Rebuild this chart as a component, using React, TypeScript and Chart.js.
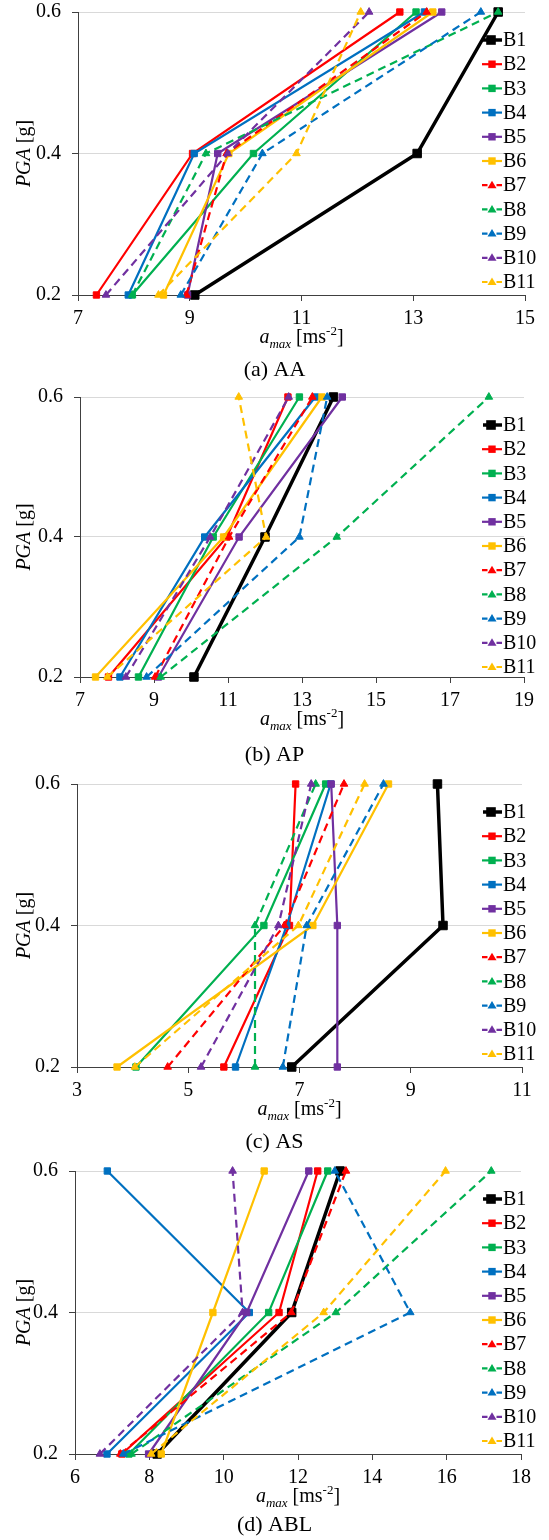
import React, { useEffect, useRef } from 'react';
import { Chart, registerables } from 'chart.js';

Chart.register(...registerables);

// ---------- data ----------
const seriesNames = ['B1', 'B2', 'B3', 'B4', 'B5', 'B6', 'B7', 'B8', 'B9', 'B10', 'B11'];
const pgaLevels = [0.2, 0.4, 0.6];
const yTicks = [0.2, 0.4, 0.6];

// a_max [m/s2] at PGA 0.2, 0.4, 0.6 for B1..B11
const aaValues = [
  [9.09, 13.07, 14.52],
  [7.33, 9.05, 12.76],
  [7.97, 10.14, 13.05],
  [7.9, 9.08, 13.2],
  [8.96, 9.5, 13.51],
  [8.53, 9.7, 13.35],
  [8.94, 9.66, 13.24],
  [7.97, 9.29, 14.52],
  [8.84, 10.3, 14.21],
  [7.5, 9.68, 12.21],
  [8.44, 10.91, 12.06],
];
const apValues = [
  [10.08, 12.0, 13.85],
  [7.77, 10.97, 12.62],
  [8.58, 10.6, 12.93],
  [8.08, 10.37, 13.36],
  [9.12, 11.3, 14.09],
  [7.42, 10.88, 13.54],
  [9.03, 11.03, 13.28],
  [9.18, 13.94, 18.05],
  [8.8, 12.93, 13.68],
  [8.24, 10.52, 12.64],
  [7.74, 12.03, 11.29],
];
const asValues = [
  [6.86, 9.58, 9.48],
  [5.64, 6.82, 6.93],
  [4.06, 6.36, 7.47],
  [5.85, 6.77, 7.56],
  [7.68, 7.68, 7.57],
  [3.72, 7.24, 8.6],
  [4.63, 6.73, 7.8],
  [6.2, 6.2, 7.29],
  [6.7, 7.13, 8.51],
  [5.23, 6.62, 7.21],
  [4.04, 6.98, 8.17],
];
const ablValues = [
  [8.21, 11.83, 13.13],
  [7.26, 11.49, 12.53],
  [7.45, 11.21, 12.8],
  [6.86, 10.69, 6.87],
  [7.98, 10.62, 12.29],
  [8.32, 9.71, 11.09],
  [7.22, 11.82, 13.29],
  [7.52, 13.02, 17.2],
  [7.3, 15.02, 12.99],
  [6.67, 10.51, 10.24],
  [8.05, 12.69, 15.97],
];

const aaXTicks = [7, 9, 11, 13, 15];
const apXTicks = [7, 9, 11, 13, 15, 17, 19];
const asXTicks = [3, 5, 7, 9, 11];
const ablXTicks = [6, 8, 10, 12, 14, 16, 18];

const captions = ['(a) AA', '(b) AP', '(c) AS', '(d) ABL'];

// ---------- styles / layout ----------
const seriesColors = [
  '#000000', '#FF0000', '#00B050', '#0070C0', '#7030A0', '#FFC000',
  '#FF0000', '#00B050', '#0070C0', '#7030A0', '#FFC000',
];
const panelValues = [aaValues, apValues, asValues, ablValues];
const panelXTicks = [aaXTicks, apXTicks, asXTicks, ablXTicks];

const layouts = [
  { left: 78, right: 525, top: 12, bottom: 295, captionY: 370 },
  { left: 80, right: 524, top: 397, bottom: 677, captionY: 755 },
  { left: 77, right: 522, top: 784, bottom: 1067, captionY: 1142 },
  { left: 75, right: 521, top: 1171, bottom: 1454, captionY: 1525 },
];
const PAD_TOP = 26;
const CANVAS_W = 549;
const CANVAS_H = 410;
const X_AXIS_H = 30;
const FONT = '"Liberation Serif", "Times New Roman", serif';
const AXIS_COLOR = '#404040';

const decorPlugin = {
  id: 'decor',
  afterDraw(chart: any, _args: any, opts: any) {
    const { ctx, chartArea: ca } = chart;
    ctx.save();
    // legend
    const y0 = ca.top + 28;
    const step = 24.2;
    seriesNames.forEach((name, i) => {
      const y = y0 + i * step;
      const c = seriesColors[i];
      ctx.strokeStyle = c;
      ctx.fillStyle = c;
      ctx.setLineDash([]);
      if (i === 0) {
        ctx.lineWidth = 3.5;
        ctx.beginPath();
        ctx.moveTo(483, y);
        ctx.lineTo(502, y);
        ctx.stroke();
        ctx.fillRect(491 - 4.8, y - 4.8, 9.6, 9.6);
      } else if (i <= 5) {
        ctx.lineWidth = 2.2;
        ctx.beginPath();
        ctx.moveTo(482, y);
        ctx.lineTo(502, y);
        ctx.stroke();
        ctx.fillRect(492 - 3.7, y - 3.7, 7.4, 7.4);
      } else {
        ctx.lineWidth = 2.2;
        ctx.beginPath();
        ctx.moveTo(482, y);
        ctx.lineTo(487.5, y);
        ctx.moveTo(496.5, y);
        ctx.lineTo(502, y);
        ctx.stroke();
        ctx.beginPath();
        ctx.moveTo(492, y - 4.5);
        ctx.lineTo(496.5, y + 3);
        ctx.lineTo(487.5, y + 3);
        ctx.closePath();
        ctx.fill();
      }
      ctx.fillStyle = '#000';
      ctx.font = `20px ${FONT}`;
      ctx.textBaseline = 'middle';
      ctx.textAlign = 'left';
      ctx.fillText(name, 503, y + 1);
    });

    // y-axis title: PGA [g]
    ctx.save();
    ctx.translate(24.5, (ca.top + ca.bottom) / 2);
    ctx.rotate(-Math.PI / 2);
    ctx.textBaseline = 'middle';
    ctx.textAlign = 'left';
    ctx.fillStyle = '#000';
    ctx.font = `italic 20px ${FONT}`;
    const w1 = ctx.measureText('PGA').width;
    ctx.font = `20px ${FONT}`;
    const w2 = ctx.measureText(' [g]').width;
    const sx = -(w1 + w2) / 2;
    ctx.font = `italic 20px ${FONT}`;
    ctx.fillText('PGA', sx, 0);
    ctx.font = `20px ${FONT}`;
    ctx.fillText(' [g]', sx + w1, 0);
    ctx.restore();

    // x-axis title: a_max [ms^-2]
    const parts = [
      { t: 'a', f: `italic 20px ${FONT}`, dy: 0 },
      { t: 'max', f: `italic 13px ${FONT}`, dy: 5 },
      { t: ' [ms', f: `20px ${FONT}`, dy: 0 },
      { t: '-2', f: `13px ${FONT}`, dy: -8 },
      { t: ']', f: `20px ${FONT}`, dy: 0 },
    ];
    ctx.textBaseline = 'alphabetic';
    ctx.textAlign = 'left';
    ctx.fillStyle = '#000';
    let total = 0;
    parts.forEach((p) => {
      ctx.font = p.f;
      total += ctx.measureText(p.t).width;
    });
    let px = (ca.left + ca.right) / 2 - total / 2;
    const base = ca.bottom + 48;
    parts.forEach((p) => {
      ctx.font = p.f;
      ctx.fillText(p.t, px, base + p.dy);
      px += ctx.measureText(p.t).width;
    });

    // caption
    ctx.font = `22px ${FONT}`;
    ctx.textAlign = 'center';
    ctx.textBaseline = 'middle';
    ctx.fillText(opts.caption, 274.5, opts.captionY);
    ctx.restore();
  },
};

function makeConfig(p: number): any {
  const L = layouts[p];
  const xt = panelXTicks[p];
  const vals = panelValues[p];
  const canvasTop = L.top - PAD_TOP;
  const plotH = L.bottom - L.top;
  const datasets = seriesNames.map((name, i) => {
    const tri = i >= 6;
    const c = seriesColors[i];
    return {
      label: name,
      data: pgaLevels.map((pga, j) => ({ x: vals[i][j], y: pga })),
      borderColor: c,
      backgroundColor: c,
      borderWidth: i === 0 ? 3.5 : 2.2,
      borderDash: tri ? [8, 5] : [],
      pointStyle: tri ? 'triangle' : 'rect',
      pointRadius: i === 0 ? 6 : tri ? 4.4 : 4.5,
      pointBorderWidth: 1,
      pointBorderColor: c,
      pointBackgroundColor: c,
      tension: 0,
      fill: false,
      clip: false,
      order: seriesNames.length - i,
    };
  });
  const tickFont = { family: FONT, size: 20 };
  return {
    type: 'line',
    data: { datasets },
    options: {
      responsive: false,
      animation: false,
      events: [],
      layout: {
        padding: {
          top: PAD_TOP,
          left: 0,
          right: CANVAS_W - L.right,
          bottom: CANVAS_H - PAD_TOP - plotH - X_AXIS_H,
        },
      },
      plugins: {
        legend: { display: false },
        tooltip: { enabled: false },
        decor: { caption: captions[p], captionY: L.captionY - canvasTop },
      },
      scales: {
        x: {
          type: 'linear',
          min: xt[0],
          max: xt[xt.length - 1],
          afterBuildTicks: (s: any) => {
            s.ticks = xt.map((v) => ({ value: v }));
          },
          afterFit: (s: any) => {
            s.height = X_AXIS_H;
          },
          grid: { drawOnChartArea: false, drawTicks: true, tickLength: 6, tickColor: AXIS_COLOR, color: AXIS_COLOR },
          border: { display: true, color: AXIS_COLOR, width: 1 },
          ticks: { font: tickFont, color: '#000', padding: 6, maxRotation: 0, autoSkip: false },
        },
        y: {
          type: 'linear',
          min: yTicks[0],
          max: yTicks[yTicks.length - 1],
          afterBuildTicks: (s: any) => {
            s.ticks = yTicks.map((v) => ({ value: v }));
          },
          afterFit: (s: any) => {
            s.width = L.left;
          },
          grid: {
            color: (ctx: any) => (ctx.tick && Math.abs(ctx.tick.value - yTicks[0]) < 1e-9 ? 'rgba(0,0,0,0)' : '#D9D9D9'),
            tickColor: AXIS_COLOR,
            tickLength: 6,
            lineWidth: 1,
          },
          border: { display: true, color: AXIS_COLOR, width: 1 },
          ticks: {
            font: tickFont,
            color: '#000',
            padding: 11,
            autoSkip: false,
            callback: (v: any) => Number(v).toFixed(1),
          },
        },
      },
    },
    plugins: [decorPlugin],
  };
}

export default function App() {
  const r0 = useRef<HTMLCanvasElement>(null);
  const r1 = useRef<HTMLCanvasElement>(null);
  const r2 = useRef<HTMLCanvasElement>(null);
  const r3 = useRef<HTMLCanvasElement>(null);
  const refs = [r0, r1, r2, r3];

  useEffect(() => {
    const charts = refs.map((r, p) => new Chart(r.current as HTMLCanvasElement, makeConfig(p)));
    return () => charts.forEach((c) => c.destroy());
  }, []);

  return (
    <div
      style={{
        position: 'absolute',
        left: 0,
        top: 0,
        width: CANVAS_W,
        height: 1540,
        overflow: 'hidden',
        background: '#fff',
      }}
    >
      {refs.map((r, p) => (
        <canvas
          key={p}
          ref={r}
          width={CANVAS_W}
          height={CANVAS_H}
          style={{
            position: 'absolute',
            left: 0,
            top: layouts[p].top - PAD_TOP,
            width: CANVAS_W,
            height: CANVAS_H,
          }}
        />
      ))}
    </div>
  );
}
